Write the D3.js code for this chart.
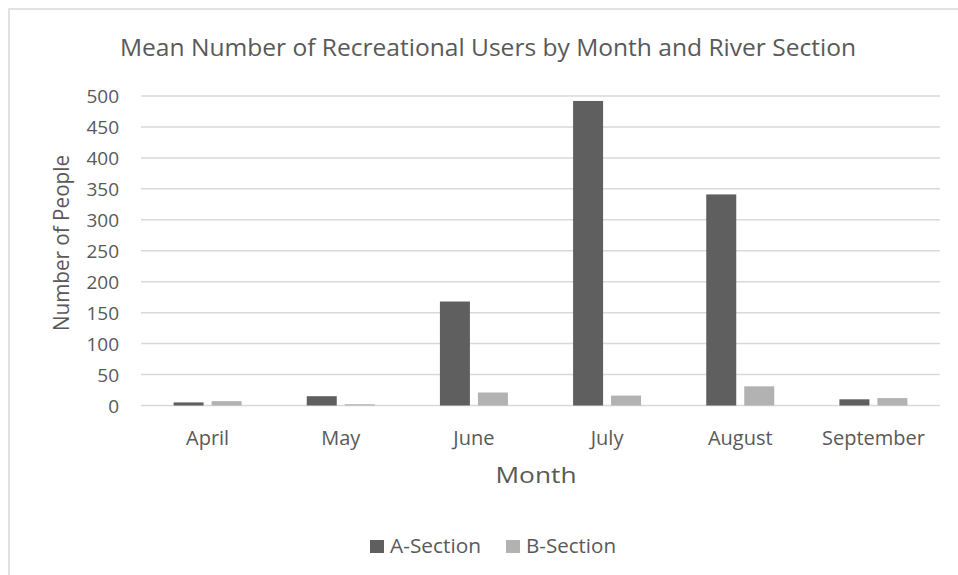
<!DOCTYPE html>
<html>
<head>
<meta charset="utf-8">
<script src="https://cdn.jsdelivr.net/npm/d3@7"></script>
<style>
  html, body { margin: 0; padding: 0; background: #ffffff; }
  svg { display: block; }
  text { font-family: "Open Sans", "Liberation Sans", sans-serif; fill: #595959; }
</style>
</head>
<body>
<svg id="chart" width="958" height="575"></svg>
<script>
const months = ["April", "May", "June", "July", "August", "September"];
const seriesNames = ["A-Section", "B-Section"];
const aSection = [5, 15, 168, 492, 341, 10];
const bSection = [7, 2, 21, 16, 31, 12];
const yTicks = [0, 50, 100, 150, 200, 250, 300, 350, 400, 450, 500];
const colors = ["#5f5f5f", "#b2b2b2"];

const svg = d3.select("#chart");

// chart border
svg.append("rect")
  .attr("x", 9).attr("y", 9).attr("width", 980).attr("height", 600)
  .attr("fill", "#ffffff").attr("stroke", "#d9d9d9").attr("stroke-width", 1.5);

const plot = { left: 141, right: 940, top: 96, bottom: 405.5 };

const x0 = d3.scaleBand().domain(months).range([plot.left, plot.right]).padding(0);
const step = x0.bandwidth();
const x1 = d3.scaleBand().domain(seriesNames)
  .range([step / 2 - 34, step / 2 + 34]).paddingInner(0.2105).paddingOuter(0);
const y = d3.scaleLinear().domain([0, 500]).range([plot.bottom, plot.top]);

// gridlines
svg.append("g").selectAll("line").data(yTicks).join("line")
  .attr("x1", plot.left).attr("x2", plot.right)
  .attr("y1", d => y(d)).attr("y2", d => y(d))
  .attr("stroke", "#d9d9d9").attr("stroke-width", 1.5);

// y axis labels
const yAxis = d3.axisLeft(y).tickValues(yTicks).tickSize(0).tickPadding(0);
const gy = svg.append("g").attr("transform", `translate(${plot.left - 22},0)`).call(yAxis);
gy.select(".domain").remove();
gy.selectAll("text").style("font-size", "19px").attr("fill", "#595959")
  .attr("dy", "0.35em")
  .style("font-family", "'Open Sans', sans-serif");

// x axis labels
const xAxis = d3.axisBottom(x0).tickSize(0).tickPadding(0);
const gx = svg.append("g").attr("transform", `translate(0,${plot.bottom})`).call(xAxis);
gx.select(".domain").remove();
gx.selectAll("text").style("font-size", "20px").attr("fill", "#595959")
  .attr("y", 39.5).attr("dy", 0)
  .style("font-family", "'Open Sans', sans-serif");

// bars
const rows = months.map((m, i) => ({ month: m, values: [aSection[i], bSection[i]] }));
const groups = svg.append("g").selectAll("g").data(rows).join("g")
  .attr("transform", d => `translate(${x0(d.month)},0)`);
groups.selectAll("rect")
  .data(d => d.values.map((v, j) => ({ key: seriesNames[j], value: v, j })))
  .join("rect")
  .attr("x", d => x1(d.key))
  .attr("width", x1.bandwidth())
  .attr("y", d => y(d.value))
  .attr("height", d => y(0) - y(d.value))
  .attr("fill", d => colors[d.j]);

// title
svg.append("text")
  .attr("x", 488).attr("y", 56)
  .attr("text-anchor", "middle")
  .style("font-size", "24px")
  .attr("textLength", 736).attr("lengthAdjust", "spacingAndGlyphs")
  .text("Mean Number of Recreational Users by Month and River Section");

// axis titles
svg.append("text")
  .attr("transform", "translate(69,243) rotate(-90)")
  .attr("text-anchor", "middle")
  .style("font-size", "22.5px")
  .attr("textLength", 176).attr("lengthAdjust", "spacingAndGlyphs")
  .text("Number of People");

svg.append("text")
  .attr("x", 536).attr("y", 483)
  .attr("text-anchor", "middle")
  .style("font-size", "22.5px")
  .attr("textLength", 81).attr("lengthAdjust", "spacingAndGlyphs")
  .text("Month");

// legend
const legendPos = [{ sx: 370, tx: 390, tl: 91 }, { sx: 506, tx: 526, tl: 90 }];
const legend = svg.append("g").selectAll("g").data(seriesNames).join("g");
legend.append("rect")
  .attr("x", (d, i) => legendPos[i].sx).attr("y", 540)
  .attr("width", 14).attr("height", 13)
  .attr("fill", (d, i) => colors[i]);
legend.append("text")
  .attr("x", (d, i) => legendPos[i].tx).attr("y", 553)
  .style("font-size", "19.5px")
  .attr("textLength", (d, i) => legendPos[i].tl).attr("lengthAdjust", "spacingAndGlyphs")
  .text(d => d);
</script>
</body>
</html>
